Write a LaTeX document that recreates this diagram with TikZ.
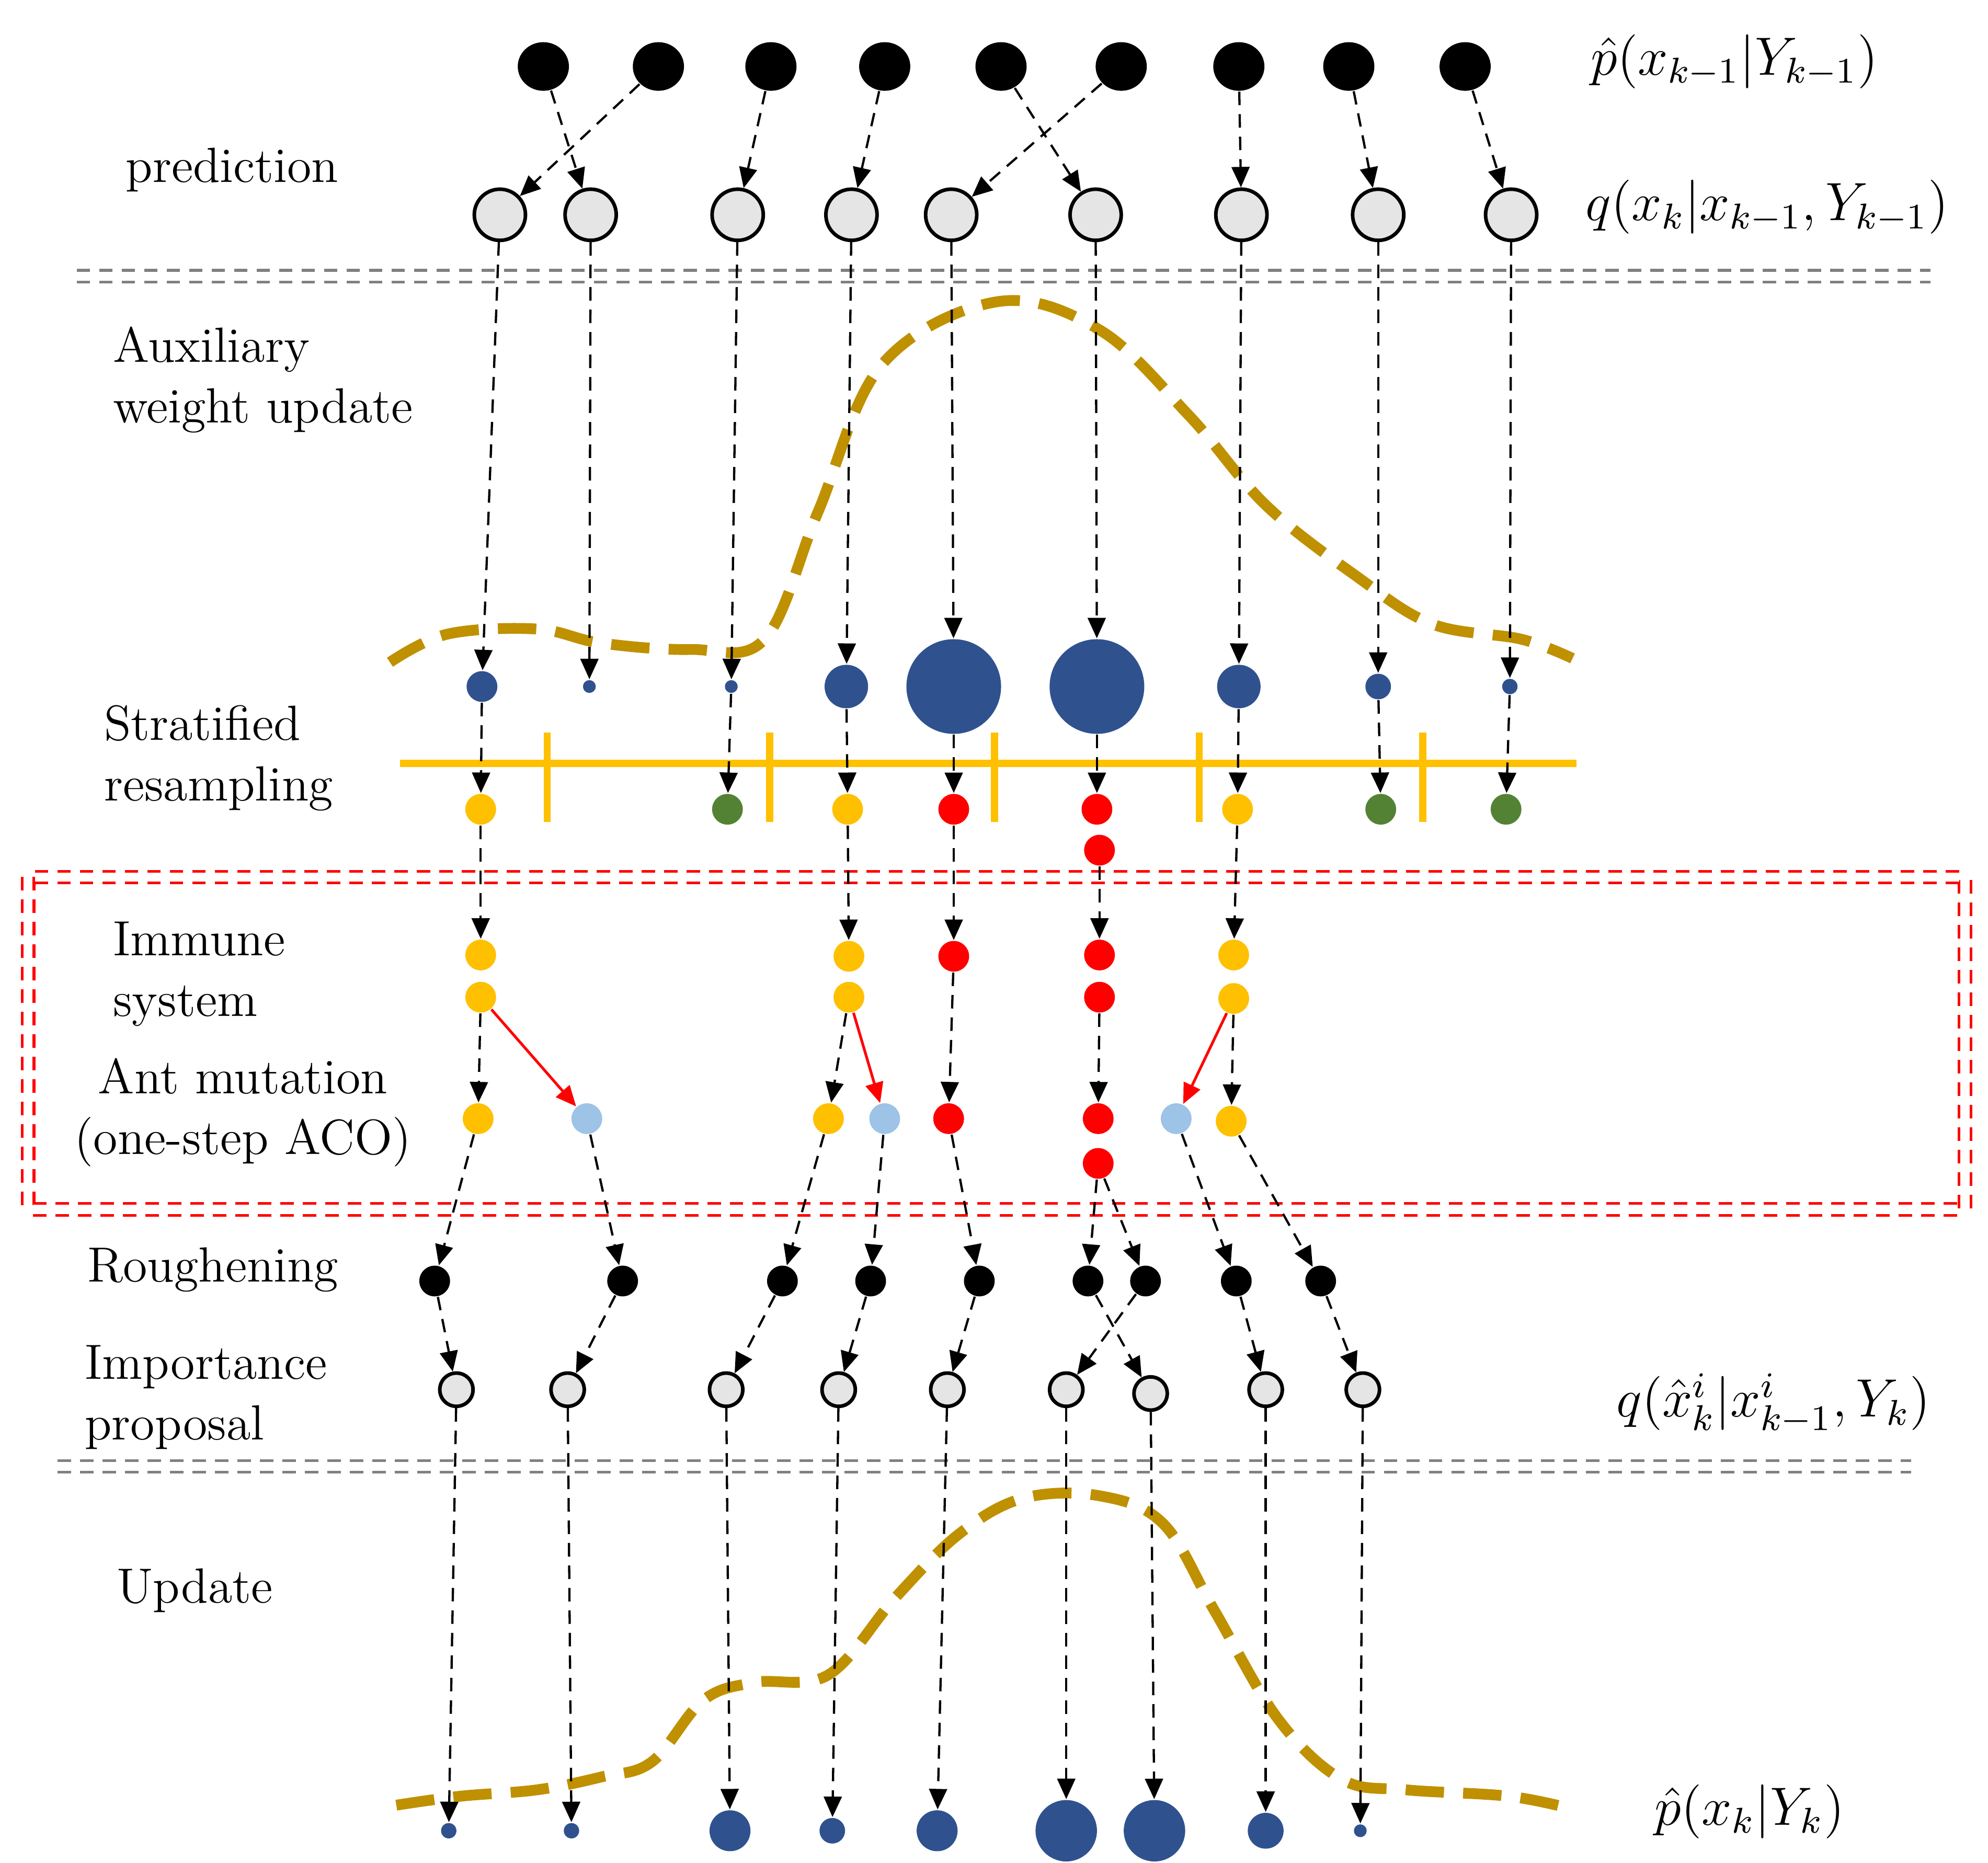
\documentclass[tikz,border=0pt]{standalone}
\usetikzlibrary{arrows.meta,shapes.geometric}
\definecolor{bluw}{RGB}{47,82,143}
\definecolor{yelw}{RGB}{255,192,0}
\definecolor{grnw}{RGB}{84,130,53}
\definecolor{lbw}{RGB}{157,195,230}
\definecolor{olv}{RGB}{191,144,0}
\begin{document}
\begin{tikzpicture}[x=0.01cm,y=-0.01cm,
  dot/.style={circle,inner sep=0pt,minimum size=#1*0.02cm},
  blk/.style={ellipse,fill=black,inner sep=0pt,minimum width=0.4cm,minimum height=0.38cm},
  gry/.style={dot=#1,fill=black!10,draw=black,line width=0.8pt},
  blu/.style={dot=#1,fill=bluw},
  yel/.style={dot=12,fill=yelw},
  grn/.style={dot=12,fill=grnw},
  rd/.style={dot=12,fill=red},
  lb/.style={dot=12,fill=lbw},
  bk/.style={dot=12,fill=black},
  arr/.style={densely dashed,line width=0.5pt,-{Triangle[length=0.16cm,width=0.14cm]}},
  rarr/.style={red,line width=0.6pt,-{Triangle[length=0.16cm,width=0.14cm]}},
  curve/.style={dash pattern=on 0.3cm off 0.15cm,line width=2.4pt,color=olv},
  lbl/.style={anchor=west,align=left,font=\fontsize{11}{13.5}\selectfont},
  mth/.style={anchor=west,font=\fontsize{11.5}{14}\selectfont}]
\useasboundingbox (0,0) rectangle (1555,1457);
% top row
\foreach \x [count=\i] in {425,515,603,692,783,877,969,1055,1146}
  \node[blk] (t\i) at (\x,52) {};
\foreach \x [count=\i] in {391,462,577,666,744,857,971,1078,1182}
  \node[gry=20] (g\i) at (\x,168) {};
\foreach \a/\b in {1/2,2/1,3/3,4/4,5/6,6/5,7/7,8/8,9/9}
  \draw[arr] (t\a) -- (g\b);
% separators
\draw[gray,densely dashed,line width=0.6pt,double distance=2pt] (60,216) -- (1510,216);
\draw[gray,densely dashed,line width=0.6pt,double distance=2pt] (45,1147) -- (1495,1147);
% curve 1
\draw[curve] plot[smooth,tension=0.6] coordinates {(305,518) (350,496) (420,492) (470,503) (540,508) (598,500) (640,400) (690,285) (780,236) (860,258) (930,325) (990,395) (1060,450) (1120,488) (1190,500) (1230,515)};
% weighted
\foreach \x/\r [count=\i] in {377/12,461/5,572/5,662/17,746/37,858/37,969/17,1078/10,1181/6}
  \node[blu=\r] (w\i) at (\x,537) {};
\foreach \i in {1,...,9} \draw[arr] (g\i) -- (w\i);
% yellow line
\draw[line width=1.6pt,color=yelw] (313,597) -- (1233,597)
  \foreach \x in {428,602,778,938,1113} {(\x,573) -- (\x,643)};
% resampled
\node[yel] (r1) at (376,633) {};
\node[grn] (r3) at (569,633) {};
\node[yel] (r4) at (663,633) {};
\node[rd] (r5) at (746,633) {};
\node[rd] (r6) at (858,633) {};
\node[rd] (r6b) at (860,665) {};
\node[yel] (r7) at (968,633) {};
\node[grn] (r8) at (1080,633) {};
\node[grn] (r9) at (1178,633) {};
\foreach \a/\b in {1/1,3/3,4/4,5/5,6/6,7/7,8/8,9/9} \draw[arr] (w\a) -- (r\b);
% red box
\draw[red,densely dashed,line width=0.6pt,double distance=2pt] (22,686) rectangle (1537,946);
% immune
\node[yel] (i1) at (376,747) {}; \node[yel] (i1b) at (376,780) {};
\node[yel] (i4) at (664,748) {}; \node[yel] (i4b) at (664,780) {};
\node[rd] (i5) at (746,748) {};
\node[rd] (i6) at (860,747) {}; \node[rd] (i6b) at (860,780) {};
\node[yel] (i7) at (965,747) {}; \node[yel] (i7b) at (965,781) {};
\draw[arr] (r1) -- (i1); \draw[arr] (r4) -- (i4); \draw[arr] (r5) -- (i5);
\draw[arr] (r6b) -- (i6); \draw[arr] (r7) -- (i7);
% ant
\node[yel] (a1) at (374,875) {}; \node[lb] (a2) at (459,875) {};
\node[yel] (a3) at (648,875) {}; \node[lb] (a4) at (692,875) {};
\node[rd] (a5) at (742,875) {};
\node[rd] (a6) at (859,875) {}; \node[rd] (a6b) at (859,910) {};
\node[lb] (a7) at (920,875) {}; \node[yel] (a8) at (963,877) {};
\draw[arr] (i1b) -- (a1); \draw[rarr] (i1b) -- (a2);
\draw[arr] (i4b) -- (a3); \draw[rarr] (i4b) -- (a4);
\draw[arr] (i5) -- (a5); \draw[arr] (i6b) -- (a6);
\draw[rarr] (i7b) -- (a7); \draw[arr] (i7b) -- (a8);
% roughening
\foreach \x [count=\i] in {340,487,612,681,766,851,896,967,1033}
  \node[bk] (k\i) at (\x,1002) {};
\draw[arr] (a1) -- (k1); \draw[arr] (a2) -- (k2); \draw[arr] (a3) -- (k3);
\draw[arr] (a4) -- (k4); \draw[arr] (a5) -- (k5); \draw[arr] (a6b) -- (k6);
\draw[arr] (a6b) -- (k7); \draw[arr] (a7) -- (k8); \draw[arr] (a8) -- (k9);
% importance
\foreach \x/\y [count=\i] in {357/1087,444/1087,568/1087,656/1087,741/1087,834/1087,900/1090,990/1087,1066/1087}
  \node[gry=13] (p\i) at (\x,\y) {};
\foreach \a/\b in {1/1,2/2,3/3,4/4,5/5,7/6,6/7,8/8,9/9} \draw[arr] (k\a) -- (p\b);
% curve 2
\draw[curve] plot[smooth,tension=0.6] coordinates {(310,1412) (360,1405) (420,1400) (470,1390) (510,1378) (550,1330) (590,1316) (648,1310) (700,1250) (750,1200) (800,1172) (860,1170) (910,1192) (950,1260) (1000,1345) (1050,1392) (1100,1400) (1180,1405) (1230,1415)};
% final
\foreach \x/\r [count=\i] in {351/6,447/6,571/16,651/10,733/16,834/24,903/24,990/14,1064/5}
  \node[blu=\r] (f\i) at (\x,1432) {};
\foreach \i in {1,...,9} \draw[arr] (p\i) -- (f\i);
% labels
\node[lbl] (l1) at (86,133) {prediction};
\node[lbl] (l2) at (76,297) {Auxiliary\\weight update};
\node[lbl] (l3) at (69,593) {Stratified\\resampling};
\node[lbl] (l4) at (76,762) {Immune\\system};
\node[lbl,align=center,anchor=center] (l5) at (190,870) {Ant mutation\\(one-step ACO)};
\node[lbl] (l6) at (56,993) {Roughening};
\node[lbl] (l7) at (54,1093) {Importance\\proposal};
\node[lbl] (l8) at (79,1244) {Update};
\node[mth] (m1) at (1232,48) {$\hat p(x_{k-1}|Y_{k-1})$};
\node[mth] (m2) at (1228,162) {$q(x_k|x_{k-1},Y_{k-1})$};
\node[mth] (m3) at (1252,1098) {$q(\hat x_k^i|x_{k-1}^i,Y_k)$};
\node[mth] (m4) at (1282,1417) {$\hat p(x_k|Y_k)$};
\end{tikzpicture}
\end{document}
